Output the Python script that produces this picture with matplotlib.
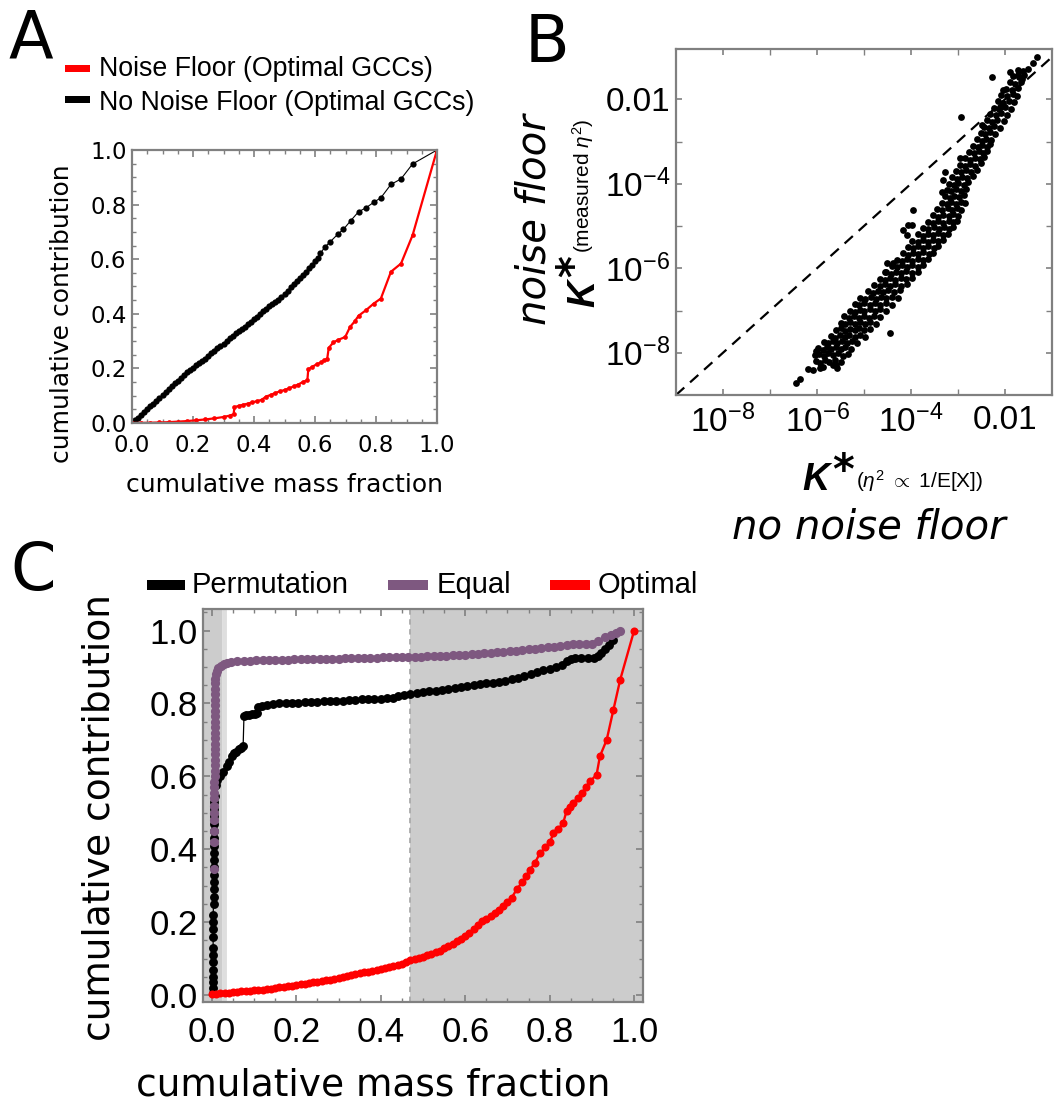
import numpy as np
import matplotlib
matplotlib.use("Agg")
import matplotlib.pyplot as plt
from matplotlib.patches import Rectangle
from matplotlib.ticker import FixedLocator, NullFormatter

plt.rcParams['font.family'] = ['DejaVu Sans']
plt.rcParams['mathtext.fontset'] = 'custom'
plt.rcParams['mathtext.rm'] = 'Liberation Sans'
plt.rcParams['mathtext.it'] = 'Liberation Sans:italic'
plt.rcParams['mathtext.bf'] = 'Liberation Sans:bold'

# ---- panel A : cumulative contribution vs cumulative mass fraction ----
a_nofloor = [(0.00, 0.000), (0.01, 0.010), (0.02, 0.020), (0.03, 0.030), (0.04, 0.041),
             (0.05, 0.051), (0.06, 0.061), (0.07, 0.071), (0.08, 0.082), (0.09, 0.092),
             (0.10, 0.103), (0.11, 0.113), (0.12, 0.124), (0.13, 0.134), (0.14, 0.145),
             (0.15, 0.155), (0.16, 0.165), (0.17, 0.175), (0.18, 0.185), (0.19, 0.194),
             (0.20, 0.203), (0.21, 0.211), (0.22, 0.218), (0.23, 0.226), (0.24, 0.235),
             (0.25, 0.245), (0.26, 0.255), (0.27, 0.264), (0.28, 0.273), (0.29, 0.282),
             (0.30, 0.291), (0.31, 0.300), (0.32, 0.310), (0.33, 0.320), (0.34, 0.328),
             (0.35, 0.337), (0.36, 0.345), (0.37, 0.353), (0.38, 0.362), (0.39, 0.371),
             (0.40, 0.380), (0.41, 0.390), (0.42, 0.400), (0.43, 0.410), (0.44, 0.419),
             (0.45, 0.427), (0.46, 0.435), (0.47, 0.443), (0.48, 0.451), (0.49, 0.462),
             (0.50, 0.472), (0.51, 0.484), (0.52, 0.497), (0.53, 0.508), (0.54, 0.519),
             (0.55, 0.530), (0.56, 0.541), (0.57, 0.553), (0.58, 0.566), (0.59, 0.579),
             (0.60, 0.592), (0.61, 0.606), (0.617, 0.621), (0.633, 0.645), (0.650, 0.664),
             (0.677, 0.694), (0.693, 0.709), (0.717, 0.741), (0.743, 0.774), (0.767, 0.788),
             (0.792, 0.808), (0.816, 0.825), (0.849, 0.874), (0.882, 0.894), (0.920, 0.949),
             (1.0, 1.0)]
a_floor = [(0.00, 0.000), (0.03, 0.0005), (0.06, 0.001), (0.09, 0.002), (0.12, 0.003),
           (0.15, 0.005), (0.18, 0.007), (0.21, 0.010), (0.24, 0.013), (0.27, 0.017),
           (0.30, 0.022), (0.32, 0.027), (0.333, 0.032), (0.336, 0.058), (0.35, 0.063),
           (0.365, 0.067), (0.38, 0.071), (0.395, 0.076), (0.41, 0.080), (0.425, 0.085),
           (0.44, 0.097), (0.455, 0.103), (0.47, 0.110), (0.485, 0.116), (0.50, 0.121),
           (0.515, 0.127), (0.53, 0.134), (0.545, 0.141), (0.56, 0.150), (0.575, 0.157),
           (0.578, 0.197), (0.59, 0.205), (0.605, 0.215), (0.62, 0.222), (0.63, 0.230),
           (0.64, 0.235), (0.645, 0.275), (0.66, 0.295), (0.677, 0.305), (0.699, 0.315),
           (0.715, 0.352), (0.73, 0.372), (0.743, 0.393), (0.767, 0.413), (0.792, 0.437),
           (0.816, 0.456), (0.849, 0.554), (0.882, 0.584), (0.920, 0.688), (1.0, 1.0)]
a_legend = ["Noise Floor (Optimal GCCs)", "No Noise Floor (Optimal GCCs)"]

# ---- panel B : log10 K* without noise floor (x) vs with measured noise floor (y) ----
kstar_log = [
    (-6.45, -8.72), (-6.36, -8.62),
    (-6.19, -8.39), (-6.09, -8.40), (-5.94, -8.36), (-5.87, -8.34), (-5.66, -8.30), (-5.57, -8.36),
    (-6.02, -8.20), (-5.93, -8.25), (-5.84, -8.18), (-5.75, -8.23), (-5.62, -8.17), (-5.48, -8.22),
    (-6.04, -8.05), (-5.95, -8.02), (-5.85, -8.08), (-5.76, -8.00), (-5.66, -8.06), (-5.56, -8.01),
    (-5.45, -8.07), (-5.33, -8.03),
    (-5.98, -7.88), (-5.88, -7.93), (-5.79, -7.86), (-5.70, -7.92), (-5.60, -7.87), (-5.50, -7.91),
    (-5.40, -7.86), (-5.28, -7.92),
    (-5.85, -7.74), (-5.76, -7.78), (-5.67, -7.72), (-5.57, -7.77), (-5.47, -7.73), (-5.37, -7.78),
    (-5.26, -7.72), (-5.15, -7.76),
    (-5.70, -7.60), (-5.61, -7.64), (-5.51, -7.58), (-5.41, -7.63), (-5.31, -7.57), (-5.20, -7.62),
    (-5.09, -7.58), (-4.98, -7.63),
    (-5.60, -7.46), (-5.50, -7.42), (-5.40, -7.48), (-5.30, -7.43), (-5.20, -7.47), (-5.10, -7.42),
    (-5.00, -7.47), (-4.88, -7.43),
    (-5.50, -7.30), (-5.40, -7.33), (-5.30, -7.28), (-5.19, -7.32), (-5.08, -7.27), (-4.98, -7.31),
    (-4.87, -7.27), (-4.75, -7.32),
    (-5.42, -7.14), (-5.31, -7.18), (-5.21, -7.13), (-5.11, -7.17), (-5.00, -7.12), (-4.90, -7.17),
    (-4.79, -7.13), (-4.66, -7.16),
    (-5.30, -7.00), (-5.20, -7.03), (-5.09, -6.98), (-4.99, -7.02), (-4.88, -6.97), (-4.77, -7.01),
    (-4.66, -6.97), (-4.53, -7.02),
    (-5.20, -6.85), (-5.10, -6.88), (-4.99, -6.83), (-4.88, -6.87), (-4.77, -6.82), (-4.66, -6.86),
    (-4.54, -6.82), (-4.40, -6.86),
    (-5.08, -6.70), (-4.97, -6.73), (-4.86, -6.68), (-4.75, -6.72), (-4.64, -6.67), (-4.53, -6.71),
    (-4.41, -6.67), (-4.28, -6.71),
    (-4.92, -6.55), (-4.81, -6.58), (-4.70, -6.53), (-4.59, -6.57), (-4.48, -6.52), (-4.37, -6.56),
    (-4.24, -6.52),
    (-4.78, -6.40), (-4.67, -6.43), (-4.56, -6.38), (-4.45, -6.42), (-4.34, -6.37), (-4.22, -6.41),
    (-4.09, -6.38),
    (-4.66, -6.25), (-4.55, -6.28), (-4.44, -6.23), (-4.33, -6.27), (-4.22, -6.22), (-4.10, -6.26),
    (-3.97, -6.23),
    (-4.54, -6.10), (-4.43, -6.13), (-4.32, -6.08), (-4.21, -6.12), (-4.10, -6.07), (-3.98, -6.11),
    (-3.86, -6.08),
    (-4.41, -5.95), (-4.30, -5.98), (-4.19, -5.93), (-4.08, -5.97), (-3.97, -5.92), (-3.85, -5.96),
    (-3.75, -5.93),
    (-4.30, -5.80), (-4.19, -5.83), (-4.08, -5.78), (-3.97, -5.82), (-3.86, -5.77), (-3.74, -5.81),
    (-3.64, -5.78),
    (-4.18, -5.65), (-4.07, -5.68), (-3.96, -5.63), (-3.85, -5.67), (-3.74, -5.62), (-3.62, -5.66),
    (-3.53, -5.63),
    (-4.07, -5.50), (-3.96, -5.53), (-3.85, -5.48), (-3.74, -5.52), (-3.63, -5.47), (-3.52, -5.51),
    (-3.42, -5.48),
    (-3.97, -5.35), (-3.86, -5.38), (-3.75, -5.33), (-3.64, -5.37), (-3.53, -5.32), (-3.42, -5.36),
    (-3.32, -5.33),
    (-3.86, -5.20), (-3.75, -5.23), (-3.64, -5.18), (-3.53, -5.22), (-3.42, -5.17), (-3.31, -5.21),
    (-3.22, -5.18),
    (-3.74, -5.05), (-3.63, -5.08), (-3.52, -5.03), (-3.41, -5.07), (-3.30, -5.02), (-3.20, -5.06),
    (-3.11, -5.03),
    (-3.64, -4.90), (-3.53, -4.93), (-3.42, -4.88), (-3.31, -4.92), (-3.20, -4.87), (-3.10, -4.91),
    (-3.02, -4.88),
    (-3.53, -4.75), (-3.42, -4.78), (-3.31, -4.73), (-3.20, -4.77), (-3.10, -4.72), (-3.00, -4.76),
    (-3.44, -4.60), (-3.33, -4.63), (-3.22, -4.58), (-3.12, -4.62), (-3.02, -4.57), (-2.93, -4.61),
    (-3.35, -4.45), (-3.24, -4.48), (-3.14, -4.43), (-3.04, -4.47), (-2.94, -4.42), (-2.86, -4.46),
    (-3.28, -4.30), (-3.18, -4.33), (-3.08, -4.28), (-2.98, -4.32), (-2.88, -4.27),
    (-3.24, -4.15), (-3.14, -4.18), (-3.04, -4.13), (-2.94, -4.17), (-2.84, -4.12),
    (-3.19, -4.00), (-3.09, -4.03), (-2.99, -3.98), (-2.88, -4.02), (-2.78, -3.97),
    (-3.13, -3.85), (-3.02, -3.88), (-2.92, -3.83), (-2.81, -3.87), (-2.69, -3.82),
    (-3.05, -3.70), (-2.94, -3.73), (-2.84, -3.68), (-2.73, -3.72), (-2.60, -3.67),
    (-2.96, -3.55), (-2.85, -3.58), (-2.74, -3.53), (-2.63, -3.57), (-2.52, -3.52),
    (-2.86, -3.40), (-2.75, -3.43), (-2.64, -3.38), (-2.54, -3.42), (-2.45, -3.37),
    (-2.76, -3.25), (-2.66, -3.28), (-2.56, -3.23), (-2.46, -3.27), (-2.38, -3.22),
    (-2.68, -3.10), (-2.58, -3.13), (-2.48, -3.08), (-2.38, -3.12), (-2.31, -3.07),
    (-2.60, -2.95), (-2.50, -2.98), (-2.40, -2.93), (-2.30, -2.97),
    (-2.52, -2.80), (-2.42, -2.83), (-2.32, -2.78), (-2.21, -2.82),
    (-2.45, -2.65), (-2.35, -2.68), (-2.24, -2.63), (-2.10, -2.67),
    (-2.39, -2.50), (-2.28, -2.53), (-2.17, -2.48), (-2.02, -2.52),
    (-2.32, -2.35), (-2.20, -2.38), (-2.08, -2.33), (-1.95, -2.37),
    (-2.24, -2.20), (-2.12, -2.23), (-2.00, -2.18), (-1.88, -2.22),
    (-2.15, -2.05), (-2.04, -2.08), (-1.92, -2.03), (-1.81, -2.07),
    (-2.08, -1.90), (-1.96, -1.93), (-1.84, -1.88), (-1.74, -1.92),
    (-1.98, -1.75), (-1.86, -1.78), (-1.72, -1.73),
    (-1.90, -1.60), (-1.78, -1.63), (-1.66, -1.58),
    (-1.82, -1.45), (-1.70, -1.48), (-1.60, -1.43),
    (-1.73, -1.30), (-1.62, -1.33), (-1.52, -1.28),
    (-1.40, -1.15), (-1.32, -1.01),
    # scattered points off the main band
    (-4.45, -7.53), (-3.96, -4.63), (-4.06, -4.98), (-3.98, -4.98), (-4.17, -5.10), (-4.09, -5.22),
    (-4.51, -5.88), (-4.38, -5.88), (-4.55, -6.09), (-2.28, -1.48), (-2.94, -2.43), (-2.96, -3.40),
    (-3.28, -3.73), (-3.32, -3.92), (-3.34, -4.20), (-2.04, -1.79), (-1.89, -1.36), (-1.72, -1.43),
    (-1.64, -1.51), (-2.49, -2.62), (-2.11, -2.19), (-6.02, -7.96), (-5.60, -8.29),
]
b_xticks = [-8, -6, -4, -2]
b_yticks = [-8, -6, -4, -2]

# ---- panel C : three GCC weighting schemes ----
c_permutation = [
    (0.003, 0.005), (0.003, 0.020), (0.003, 0.035), (0.003, 0.050), (0.003, 0.070), (0.003, 0.090),
    (0.003, 0.110), (0.003, 0.130), (0.003, 0.160), (0.003, 0.180), (0.003, 0.200), (0.003, 0.220),
    (0.004, 0.250), (0.004, 0.270), (0.004, 0.290), (0.004, 0.310), (0.004, 0.330), (0.004, 0.350),
    (0.004, 0.370), (0.004, 0.390), (0.005, 0.410), (0.005, 0.430), (0.005, 0.450), (0.005, 0.470),
    (0.005, 0.490), (0.006, 0.510), (0.006, 0.530), (0.007, 0.545), (0.009, 0.575), (0.013, 0.590),
    (0.019, 0.600), (0.026, 0.612), (0.035, 0.627), (0.041, 0.640), (0.047, 0.655), (0.053, 0.663),
    (0.058, 0.668), (0.064, 0.674), (0.070, 0.678), (0.074, 0.682), (0.076, 0.765), (0.081, 0.768),
    (0.088, 0.769), (0.095, 0.770), (0.102, 0.772), (0.108, 0.774), (0.110, 0.790), (0.118, 0.794),
    (0.130, 0.796), (0.145, 0.798), (0.160, 0.800), (0.175, 0.801), (0.190, 0.801), (0.205, 0.802),
    (0.220, 0.804), (0.235, 0.805), (0.250, 0.805), (0.265, 0.806), (0.280, 0.807), (0.295, 0.808),
    (0.310, 0.808), (0.325, 0.809), (0.340, 0.810), (0.355, 0.811), (0.370, 0.811), (0.385, 0.812),
    (0.400, 0.813), (0.415, 0.814), (0.430, 0.816), (0.440, 0.820), (0.455, 0.822), (0.470, 0.826),
    (0.485, 0.828), (0.500, 0.830), (0.515, 0.833), (0.530, 0.835), (0.545, 0.837), (0.560, 0.840),
    (0.575, 0.843), (0.590, 0.846), (0.605, 0.849), (0.620, 0.851), (0.635, 0.853), (0.650, 0.855),
    (0.665, 0.857), (0.680, 0.859), (0.695, 0.861), (0.710, 0.866), (0.725, 0.871), (0.740, 0.876),
    (0.755, 0.880), (0.770, 0.885), (0.785, 0.891), (0.800, 0.895), (0.815, 0.900), (0.830, 0.906),
    (0.840, 0.915), (0.850, 0.922), (0.860, 0.924), (0.875, 0.924), (0.890, 0.924), (0.905, 0.924),
    (0.915, 0.930), (0.922, 0.938), (0.930, 0.948), (0.940, 0.960), (0.951, 0.973),
]
c_equal = [
    (0.004, 0.345), (0.004, 0.420), (0.005, 0.450), (0.005, 0.480), (0.005, 0.500), (0.006, 0.520),
    (0.006, 0.540), (0.006, 0.555), (0.006, 0.570), (0.006, 0.585), (0.007, 0.600), (0.007, 0.615),
    (0.007, 0.630), (0.007, 0.645), (0.007, 0.660), (0.007, 0.675), (0.007, 0.690), (0.007, 0.705),
    (0.007, 0.720), (0.007, 0.735), (0.007, 0.750), (0.007, 0.765), (0.007, 0.780), (0.007, 0.795),
    (0.007, 0.810), (0.007, 0.825), (0.007, 0.840), (0.008, 0.855), (0.008, 0.868), (0.009, 0.880),
    (0.011, 0.890), (0.015, 0.898), (0.021, 0.904), (0.028, 0.908), (0.036, 0.911),
    (0.045, 0.913), (0.060, 0.915), (0.075, 0.916), (0.090, 0.917), (0.105, 0.918), (0.120, 0.918),
    (0.135, 0.919), (0.150, 0.919), (0.165, 0.920), (0.180, 0.920), (0.195, 0.921), (0.210, 0.921),
    (0.225, 0.922), (0.240, 0.922), (0.255, 0.922), (0.270, 0.923), (0.285, 0.923), (0.300, 0.923),
    (0.315, 0.924), (0.330, 0.924), (0.345, 0.924), (0.360, 0.925), (0.375, 0.925), (0.390, 0.925),
    (0.405, 0.926), (0.420, 0.926), (0.435, 0.926), (0.450, 0.927), (0.465, 0.927), (0.480, 0.928),
    (0.495, 0.928), (0.510, 0.929), (0.525, 0.930), (0.540, 0.930), (0.555, 0.931), (0.570, 0.932),
    (0.585, 0.933), (0.600, 0.934), (0.615, 0.935), (0.630, 0.936), (0.645, 0.937), (0.660, 0.938),
    (0.675, 0.940), (0.690, 0.941), (0.705, 0.943), (0.720, 0.944), (0.735, 0.946), (0.750, 0.948),
    (0.765, 0.950), (0.780, 0.952), (0.795, 0.954), (0.810, 0.956), (0.825, 0.958), (0.840, 0.961),
    (0.855, 0.963), (0.870, 0.963), (0.885, 0.963), (0.900, 0.964), (0.915, 0.972), (0.930, 0.981),
    (0.945, 0.988), (0.957, 0.994), (0.967, 1.000),
]
c_optimal = [
    (0.00, 0.003), (0.01, 0.004), (0.02, 0.005), (0.03, 0.006), (0.04, 0.007), (0.05, 0.008),
    (0.06, 0.009), (0.07, 0.010), (0.08, 0.011), (0.09, 0.012), (0.10, 0.013), (0.11, 0.014),
    (0.12, 0.015), (0.13, 0.017), (0.14, 0.018), (0.15, 0.020), (0.16, 0.022), (0.17, 0.023),
    (0.18, 0.025), (0.19, 0.026), (0.20, 0.028), (0.21, 0.030), (0.22, 0.031), (0.23, 0.033),
    (0.24, 0.035), (0.25, 0.037), (0.26, 0.038), (0.27, 0.040), (0.28, 0.042), (0.29, 0.045),
    (0.30, 0.047), (0.31, 0.050), (0.32, 0.053), (0.33, 0.055), (0.34, 0.057), (0.35, 0.060),
    (0.36, 0.062), (0.37, 0.064), (0.38, 0.066), (0.39, 0.068), (0.40, 0.071), (0.41, 0.073),
    (0.42, 0.076), (0.43, 0.079), (0.44, 0.082), (0.45, 0.086), (0.46, 0.091), (0.47, 0.096),
    (0.48, 0.099), (0.49, 0.102), (0.50, 0.105), (0.51, 0.109), (0.52, 0.113), (0.53, 0.117),
    (0.54, 0.122), (0.55, 0.128), (0.56, 0.134), (0.57, 0.140), (0.58, 0.147), (0.59, 0.154),
    (0.60, 0.162), (0.61, 0.171), (0.62, 0.180), (0.63, 0.192), (0.64, 0.203), (0.65, 0.210),
    (0.66, 0.217), (0.67, 0.225), (0.68, 0.233), (0.69, 0.243), (0.70, 0.254), (0.71, 0.267),
    (0.722, 0.290), (0.735, 0.310), (0.745, 0.326), (0.753, 0.343), (0.765, 0.363), (0.777, 0.389),
    (0.790, 0.405), (0.801, 0.421), (0.809, 0.444), (0.820, 0.455), (0.832, 0.472), (0.840, 0.505),
    (0.848, 0.515), (0.856, 0.527), (0.866, 0.540), (0.876, 0.554), (0.886, 0.570), (0.895, 0.586),
    (0.911, 0.604), (0.919, 0.655), (0.935, 0.700), (0.951, 0.783), (0.967, 0.865), (1.000, 1.000),
]
c_shaded = [(-0.05, 0.025), (0.469, 1.05)]   # mass-fraction ranges that are shaded
c_legend = ["Permutation", "Equal", "Optimal"]
purple = '#7e5880'

W, H = 1057, 1111
fig = plt.figure(figsize=(W / 100, H / 100), dpi=100)


def box(l, t, r, b):
    return [l / W, 1 - b / H, (r - l) / W, (b - t) / H]


def ftxt(px, py, s, **kw):
    return fig.text(px / W, 1 - py / H, s, **kw)


def bar(l, t, r, b, color):
    fig.patches.append(Rectangle((l / W, 1 - b / H), (r - l) / W, (b - t) / H,
                                 transform=fig.transFigure, color=color, lw=0))


def frame(ax):
    for sp in ax.spines.values():
        sp.set_color('#808080')
        sp.set_linewidth(1.6)
        sp.set_zorder(10)
    ax.tick_params(which='both', direction='in', top=True, right=True, color='#808080')
    ax.tick_params(which='major', length=5, width=1.2)
    ax.tick_params(which='minor', length=3, width=1.0)


# ---------------- A ----------------
axA = fig.add_axes(box(132, 150, 437, 423))
x, y = np.array(a_nofloor).T
axA.plot(x, y, '-o', color='black', lw=0.8, ms=4.5, mew=0)
x, y = np.array(a_floor).T
axA.plot(x, y, '-o', color='red', lw=1.6, ms=3.4, mew=0)
axA.set_xlim(0, 1)
axA.set_ylim(0, 1)
frame(axA)
ticks = np.arange(0, 1.01, 0.2)
for setter in (axA.set_xticks, axA.set_yticks):
    setter(ticks)
axA.set_xticklabels([f'{t:.1f}' for t in ticks], fontsize=16.5)
axA.set_yticklabels([f'{t:.1f}' for t in ticks], fontsize=16.5)
axA.xaxis.set_minor_locator(FixedLocator(np.arange(0, 1.01, 0.05)))
axA.yaxis.set_minor_locator(FixedLocator(np.arange(0, 1.01, 0.05)))
axA.tick_params(axis='x', pad=8)
axA.tick_params(axis='y', pad=4)
ftxt(62, 314, 'cumulative contribution', rotation=90, fontsize=18, ha='center', va='center')
ftxt(284, 492, 'cumulative mass fraction', fontsize=18, ha='center', va='baseline')
ftxt(8, 57, 'A', fontsize=47, va='baseline')
bar(65, 64.5, 90, 71.5, 'red')
bar(65, 96.5, 90, 103.5, 'black')
ftxt(99, 76, a_legend[0], fontsize=19.3, family='Liberation Sans', va='baseline')
ftxt(99, 110, a_legend[1], fontsize=19.3, family='Liberation Sans', va='baseline')

# ---------------- B ----------------
axB = fig.add_axes(box(676, 49, 1052, 395))
kx, ky = 10.0 ** np.array(kstar_log).T
axB.set_xscale('log')
axB.set_yscale('log')
axB.set_xlim(1e-9, 1e-1)
axB.set_ylim(1e-9, 10 ** -0.81)
lims = np.array(axB.get_xlim())
axB.plot(lims, lims, '--', color='black', lw=1.6, dashes=(5, 3.5))
axB.scatter(kx, ky, s=24, color='black', lw=0, zorder=3)
frame(axB)


def dec_label(e):
    return '0.01' if e == -2 else r'$10^{%d}$' % e


axB.xaxis.set_major_locator(FixedLocator([10.0 ** e for e in b_xticks]))
axB.yaxis.set_major_locator(FixedLocator([10.0 ** e for e in b_yticks]))
axB.xaxis.set_minor_locator(FixedLocator([10.0 ** e for e in (-7, -5, -3)]))
axB.yaxis.set_minor_locator(FixedLocator([10.0 ** e for e in (-7, -5, -3)]))
axB.xaxis.set_minor_formatter(NullFormatter())
axB.yaxis.set_minor_formatter(NullFormatter())
axB.set_xticklabels([dec_label(e) for e in b_xticks], fontsize=24, family='Liberation Sans')
axB.set_yticklabels([dec_label(e) for e in b_yticks], fontsize=24, family='Liberation Sans')
axB.tick_params(which='both', length=4)
axB.tick_params(axis='x', pad=7)
axB.tick_params(axis='y', pad=4)

ftxt(525, 62, 'B', fontsize=47, va='baseline')
ftxt(546, 220, 'noise floor', rotation=90, rotation_mode='anchor', fontsize=29,
     style='italic', ha='center', va='baseline')
ftxt(594, 293, 'K', rotation=90, rotation_mode='anchor', fontsize=27, fontweight='bold',
     style='italic', family='Liberation Sans', ha='center', va='baseline')
ftxt(587, 266, '*', rotation=90, rotation_mode='anchor', fontsize=30, fontweight='bold',
     ha='center', va='baseline')
ftxt(590, 186, r'$(\mathrm{measured}\ \eta^{2})$', rotation=90, rotation_mode='anchor',
     fontsize=15, ha='center', va='baseline')
ftxt(816, 490, 'K', fontsize=27, fontweight='bold', style='italic', family='Liberation Sans',
     ha='center', va='baseline')
ftxt(843, 484, '*', fontsize=30, fontweight='bold', ha='center', va='baseline')
ftxt(856, 488, r'$(\eta^{2}\ \propto\ \mathrm{1/E[X]})$', fontsize=15, ha='left', va='baseline')
ftxt(869, 538, 'no noise floor', fontsize=29, style='italic', ha='center', va='baseline')

# ---------------- C ----------------
axC = fig.add_axes(box(203, 609, 643, 1002))
for lo, hi in c_shaded:
    axC.axvspan(lo, hi, color='#cccccc', lw=0, zorder=0)
axC.axvline(c_shaded[0][1] + 0.003, color='#dedede', lw=3.5, zorder=0.5)
axC.axvline(c_shaded[1][0], color='#aaaaaa', lw=1.3, ls=(0, (3, 2.5)), zorder=0.5)
x, y = np.array(c_permutation).T
axC.plot(x, y, '-o', color='black', lw=0.9, ms=6.4, mew=0, zorder=2)
x, y = np.array(c_equal).T
axC.plot(x, y, 'o', color=purple, ms=6.6, mew=0, zorder=3)
x, y = np.array(c_optimal).T
axC.plot(x, y, '-o', color='red', lw=1.7, ms=5.8, mew=0, zorder=4)
axC.set_xlim(-0.021, 1.021)
axC.set_ylim(-0.019, 1.059)
frame(axC)
axC.set_xticks(ticks)
axC.set_yticks(ticks)
axC.set_xticklabels([f'{t:.1f}' for t in ticks], fontsize=25, family='Liberation Sans')
axC.set_yticklabels([f'{t:.1f}' for t in ticks], fontsize=25, family='Liberation Sans')
axC.xaxis.set_minor_locator(FixedLocator(np.arange(0, 1.01, 0.05)))
axC.yaxis.set_minor_locator(FixedLocator(np.arange(0, 1.06, 0.05)))
axC.tick_params(axis='x', pad=10)
axC.tick_params(axis='y', pad=4)
ftxt(100, 818, 'cumulative contribution', rotation=90, fontsize=27, ha='center', va='center')
ftxt(373, 1095, 'cumulative mass fraction', fontsize=27, ha='center', va='baseline')
ftxt(10, 590, 'C', fontsize=47, va='baseline')
for (l, r), tx, col, name in zip([(147, 185), (388, 428), (550, 590)], [192, 437, 598],
                                 ['black', purple, 'red'], c_legend):
    bar(l, 580, r, 590, col)
    ftxt(tx, 593, name, fontsize=21, family='Liberation Sans', va='baseline')

fig.savefig('out.png', dpi=100, facecolor='white')
